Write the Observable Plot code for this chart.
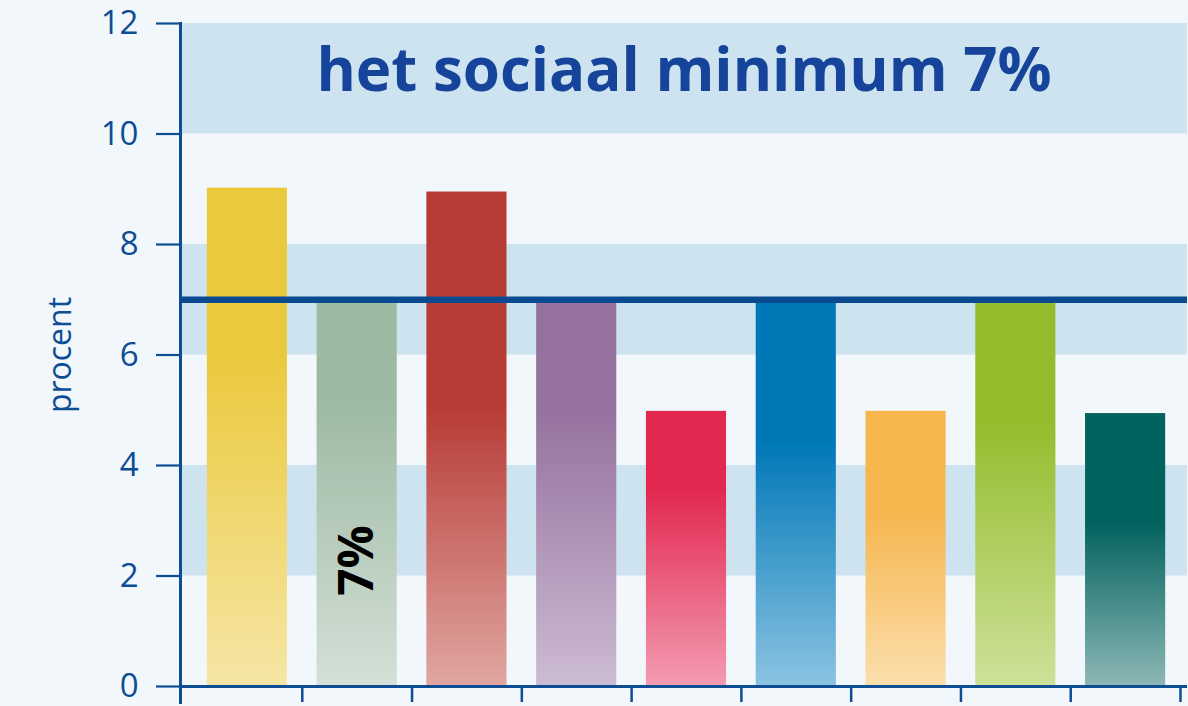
<!DOCTYPE html>
<html>
<head>
<meta charset="utf-8">
<script src="https://cdn.jsdelivr.net/npm/d3@7"></script>
<script src="https://cdn.jsdelivr.net/npm/@observablehq/plot@0.6"></script>
<style>
  html, body { margin: 0; padding: 0; background: #f2f7fc; }
  #chart { width: 1188px; height: 706px; overflow: hidden; }
</style>
</head>
<body>
<div id="chart"></div>
<script>
// ---- data ----
const categories = ["1", "2", "3", "4", "5", "6", "7", "8", "9"];
const values = [9.02, 7.0, 8.95, 7.0, 4.98, 7.0, 4.98, 7.0, 4.94];
const topColors = ["#ebc93c", "#9db9a2", "#b83c36", "#95729e", "#e22750", "#0078b8", "#f6b54d", "#93bd2d", "#02625e"];
const bottomColors = ["#f6e6a6", "#d3e0d7", "#e0a7a3", "#cdbbd3", "#f39cb1", "#8bc3e1", "#fbdfad", "#cee19a", "#8db8b6"];
const fadeStart = [0.33, 0.25, 0.44, 0.29, 0.28, 0.37, 0.36, 0.32, 0.40];
const yTicks = [0, 2, 4, 6, 8, 10, 12];
const bandStarts = [2, 6, 10];
const bandEnds = [4, 8, 12];
const minimum = 7;
const title = "het sociaal minimum 7%";
const barLabel = "7%";
const yLabel = "procent";

// ---- styles ----
const axisColor = "#0c4d93";
const titleColor = "#15449a";
const bandColor = "#cde4f0";
const bg = "#f2f7fc";
const xRange = [192, 1180];
const step = (xRange[1] - xRange[0]) / categories.length;

const data = categories.map((c, i) => ({cat: c, value: values[i], i}));
const bands = bandStarts.map((s, i) => ({y1: s, y2: bandEnds[i]}));

function gradientDefs() {
  const defs = d3.create("svg:defs");
  data.forEach(d => {
    const g = defs.append("linearGradient")
      .attr("id", `bar-grad-${d.i}`)
      .attr("x1", 0).attr("y1", 0).attr("x2", 0).attr("y2", 1);
    g.append("stop").attr("offset", 0).attr("stop-color", topColors[d.i]);
    g.append("stop").attr("offset", fadeStart[d.i]).attr("stop-color", topColors[d.i]);
    g.append("stop").attr("offset", 1).attr("stop-color", bottomColors[d.i]);
  });
  return defs.node();
}

const chart = Plot.plot({
  width: 1188,
  height: 706,
  marginLeft: 180,
  marginRight: 1,
  marginTop: 23,
  marginBottom: 20,
  style: {background: bg, fontFamily: "'Open Sans', 'Noto Sans', sans-serif", overflow: "visible"},
  x: {type: "band", domain: categories, range: xRange, paddingInner: 0.27, paddingOuter: 0.135, align: 0.5, round: false, axis: null},
  y: {domain: [0, 12], axis: null},
  color: {type: "identity"},
  marks: [
    gradientDefs,
    Plot.rect(bands, {y1: "y1", y2: "y2", fill: bandColor}),
    Plot.rectY(data, {x: "cat", y: "value", fill: d => `url(#bar-grad-${d.i})`}),
    Plot.ruleY([minimum], {stroke: "#0a4a91", strokeWidth: 6.5}),
    Plot.ruleY([0], {stroke: axisColor, strokeWidth: 3}),
    Plot.frame({anchor: "left", stroke: axisColor, strokeWidth: 3, insetBottom: -16}),
    Plot.axisY(yTicks, {tickSize: 24, tickPadding: 18, fontSize: 33, tickFormat: d => String(d), stroke: axisColor, fill: axisColor, strokeWidth: 2.2, label: null}),
    Plot.axisX(categories, {tickSize: 16, tickFormat: () => "", dx: step / 2, stroke: axisColor, strokeWidth: 2.5, label: null}),
    Plot.text([title], {text: d => d, frameAnchor: "top", dy: 67, lineAnchor: "bottom", fontSize: 60, fontWeight: 700, fill: titleColor}),
    Plot.text([{cat: categories[1], text: barLabel}], {x: "cat", y: () => 2.28, text: "text", rotate: -90, fontSize: 48, fontWeight: 700, fill: "#000"}),
    Plot.text([yLabel], {text: d => d, frameAnchor: "left", textAnchor: "middle", dx: -120, rotate: -90, fontSize: 32, fill: axisColor})
  ]
});
document.getElementById("chart").appendChild(chart);
</script>
</body>
</html>
